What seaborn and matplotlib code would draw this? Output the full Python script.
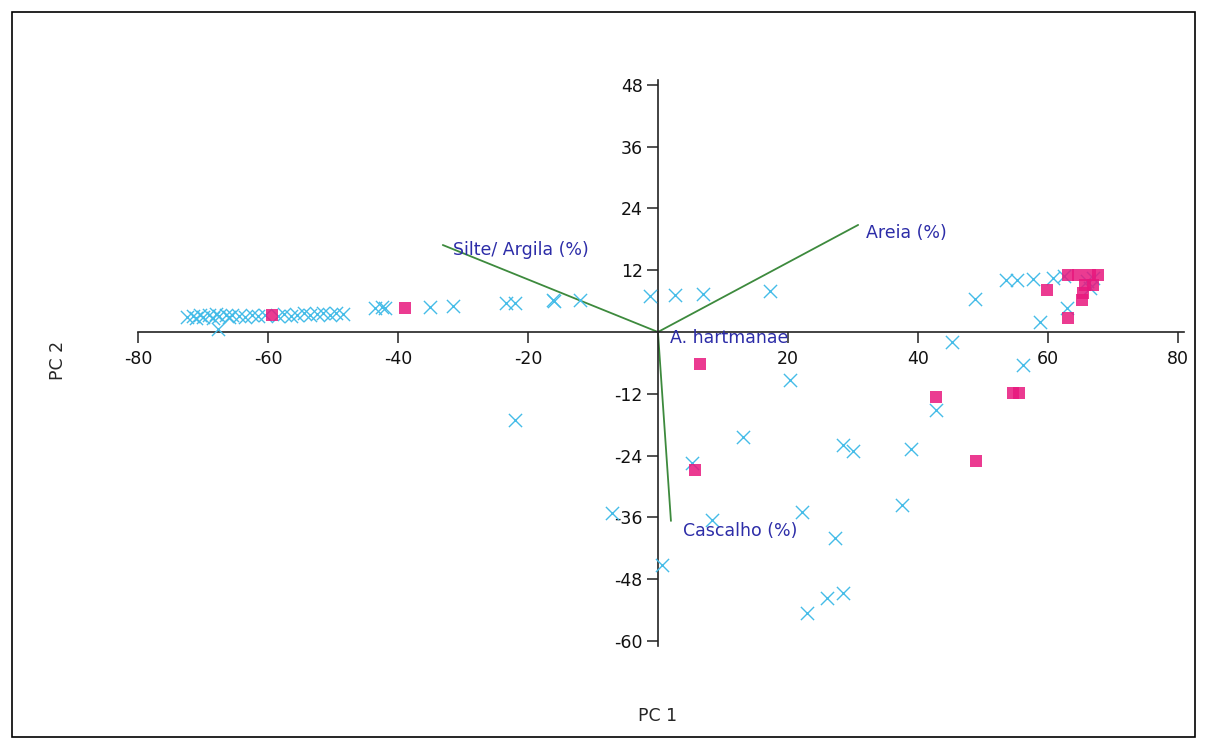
import matplotlib
matplotlib.use("Agg")
import matplotlib.pyplot as plt
import seaborn as sns
from matplotlib.patches import Rectangle

# ==== 1. Data ====
# sample scores, species absent (blue crosses)
absent_pc1 = [-72.5, -71.5, -71, -70.5, -70, -69, -68.5, -68, -67.5, -66.5, -66, -65.5,
              -64.5, -63.5, -62.5, -61.5, -60.5, -58.5, -57.5, -56.5, -55.5, -54.5,
              -53.5, -52.5, -51.5, -50.5, -49.5, -48.5, -67.7,
              -43.5, -42.5, -42, -35, -31.5, -23.3, -22, -16.1, -16, -12, -1.2, 2.6,
              7, 17.2, -22,
              48.8, 53.6, 55.2, 57.7, 60.8, 62.9, 58.8, 45.2, 56.2, 62.5, 66, 67, 66.5,
              20.3, 13.1, 5.2, 28.5, 30, 39, 42.8, -7.1, 8.3, 22.1, 27.2, 37.5, 0.6,
              22.9, 26, 28.5]
absent_pc2 = [3.0, 3.2, 2.7, 3.4, 3.0, 3.3, 2.8, 3.5, 3.1, 3.3, 2.9, 3.4,
              3.2, 3.0, 3.4, 3.1, 3.3, 3.2, 3.5, 3.1, 3.4, 3.6, 3.3,
              3.5, 3.7, 3.4, 3.6, 3.5, 0.5,
              4.7, 4.9, 4.6, 4.8, 5.0, 5.6, 5.6, 6.2, 6.0, 6.3, 7.0, 7.1,
              7.4, 8.0, -17.1,
              6.5, 10.1, 10.1, 10.3, 10.5, 4.7, 1.9, -1.9, -6.4, 10.8, 10.0, 10.5, 8.5,
              -9.3, -20.3, -25.4, -21.9, -23.2, -22.8, -15.1, -35.2, -36.5, -34.9, -40,
              -33.6, -45.2, -54.6, -51.7, -50.7]

# sample scores, species present (pink squares)
present_pc1 = [-59.4, -38.9, 6.5, 5.7, 42.8, 54.6, 55.6, 49, 59.8, 63.1, 64.6, 66.5,
               67.7, 65.7, 66.9, 65.4, 65.2, 63.1]
present_pc2 = [3.3, 4.7, -6.2, -26.9, -12.6, -11.9, -11.8, -25.1, 8.2, 11.1, 11.1, 11.1,
               11.1, 9.1, 9.1, 7.5, 6.2, 2.7]

# variable loadings (biplot vectors)
var_names = ["Silte/ Argila (%)", "Areia (%)", "Cascalho (%)", "A. hartmanae"]
var_pc1 = [-33.1, 30.8, 2.0, 0.0]
var_pc2 = [16.9, 20.8, -36.7, 0.0]

x_ticks = [-80, -60, -40, -20, 20, 40, 60, 80]
y_ticks = [48, 36, 24, 12, -12, -24, -36, -48, -60]

# ==== 2. Figure ====
sns.set_style("white")
plt.rcParams["axes.unicode_minus"] = False
fig = plt.figure(figsize=(12.07, 7.49), dpi=100)
ax = fig.add_axes([0.1143, 0.1375, 0.867, 0.756])

sns.scatterplot(x=absent_pc1, y=absent_pc2, marker="x", color="#45bce8",
                s=90, linewidth=1.0, ax=ax, zorder=3)
sns.scatterplot(x=present_pc1, y=present_pc2, marker="s", color="#e8187e",
                s=68, linewidth=0, alpha=0.85, ax=ax, zorder=4)

for name, vx, vy in zip(var_names, var_pc1, var_pc2):
    ax.plot([0, vx], [0, vy], color="#3d8a3d", lw=1.3, zorder=2)

txt_kw = dict(color="#2d2da8", fontsize=12.5, va="center", ha="left", zorder=5)
ax.text(var_pc1[0] + 1.6, var_pc2[0] - 1.0, var_names[0], **txt_kw)
ax.text(var_pc1[1] + 1.2, var_pc2[1] - 1.6, var_names[1], **txt_kw)
ax.text(var_pc1[2] + 1.8, var_pc2[2] - 1.9, var_names[2], **txt_kw)
ax.text(var_pc1[3] + 1.8, var_pc2[3] - 1.2, var_names[3], **txt_kw)

# ==== 3. Axes through origin ====
ax.set_xlim(-80, 81)
ax.set_ylim(-61, 49)
for side in ["top", "right"]:
    ax.spines[side].set_visible(False)
ax.spines["left"].set_position(("data", 0))
ax.spines["bottom"].set_position(("data", 0))
for side in ["left", "bottom"]:
    ax.spines[side].set_color("#222222")
    ax.spines[side].set_linewidth(1.2)
ax.set_xticks(x_ticks)
ax.set_yticks(y_ticks)
ax.tick_params(bottom=True, left=True, direction="out", length=8, width=1.1,
               color="#222222", labelsize=12.5, labelcolor="#111111")
ax.tick_params(axis="x", pad=5)
ax.tick_params(axis="y", pad=3)
ax.set_facecolor("white")

fig.text(658 / 1207, 1 - 716 / 749, "PC 1", ha="center", va="center", fontsize=12.5)
fig.text(58 / 1207, 1 - 360 / 749, "PC 2", ha="center", va="center",
         fontsize=12.5, rotation=90)

# outer frame
fig.patches.append(Rectangle((12 / 1207, 12 / 749), 1183 / 1207, 725 / 749,
                             transform=fig.transFigure, fill=False,
                             edgecolor="black", linewidth=1.2))

plt.savefig("out.png", dpi=100)
